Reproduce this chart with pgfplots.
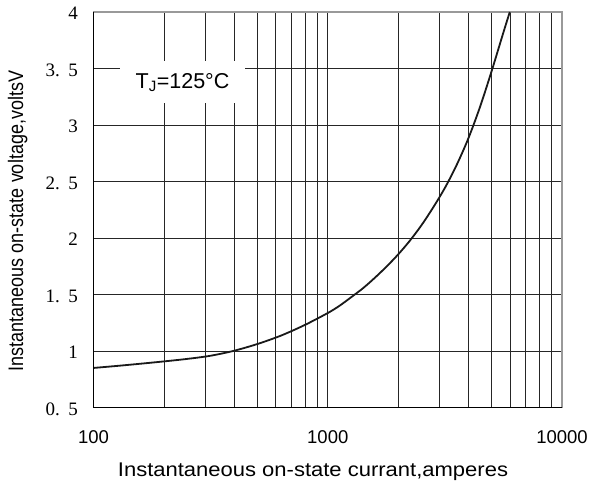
\documentclass[border=0pt]{standalone}
\usepackage{fontspec}
\setmainfont{Liberation Sans}
\newfontfamily\numserif{Liberation Serif}
\usepackage{graphicx}
\usepackage{pgfplots}
\pgfplotsset{compat=1.18}
\pgfplotstableread{
I V
100 0.850
126 0.868
158 0.887
200 0.908
251 0.930
316 0.958
398 1.002
501 1.062
631 1.136
794 1.228
1000 1.336
1122 1.400
1259 1.476
1413 1.555
1585 1.646
1778 1.745
1995 1.853
2239 1.975
2512 2.113
2818 2.270
3162 2.443
3548 2.645
3981 2.880
4467 3.160
5012 3.480
5623 3.820
5985 4.000
}\curve
\begin{document}
\begin{tikzpicture}
\path[use as bounding box] (0,0) rectangle (591bp,486bp);
\begin{axis}[
  at={(93.5bp,78.5bp)}, anchor=south west,
  scale only axis, width=468.5bp, height=395.5bp,
  xmode=log, xmin=100, xmax=10000, ymin=0.5, ymax=4,
  xtick={100,1000,10000}, xticklabels={100,1000,10000},
  minor xtick={200,300,400,500,600,700,800,900,2000,3000,4000,5000,6000,7000,8000,9000},
  ytick={0.5,1,1.5,2,2.5,3,3.5,4},
  yticklabels={0.\hspace{0.45em}5,1,1.\hspace{0.45em}5,2,2.\hspace{0.45em}5,3,3.\hspace{0.45em}5,4},
  xmajorgrids, xminorgrids, ymajorgrids,
  major grid style={black!85, line width=0.95bp},
  minor grid style={black!85, line width=0.95bp},
  major tick length=0pt, minor tick length=0pt,
  axis line style={draw=gray!80, line width=1.4bp},
  xticklabel style={font=\fontsize{18.5bp}{20bp}\selectfont, anchor=north, yshift=-19.6bp},
  yticklabel style={font=\numserif\fontsize{19bp}{21bp}\selectfont, anchor=east, xshift=-12bp, yshift=-1.5bp},
  clip=false,
]
\addplot[black!90, line width=1.8bp, smooth] table[x=I, y=V] {\curve};
\node[fill=white, minimum width=125bp, minimum height=42bp, inner sep=0pt,
      font=\fontsize{21.5bp}{23bp}\selectfont]
  at (rel axis cs:0.19,0.822) {T\textsubscript{J}=125°C};
\draw[black, line width=1.8bp] (rel axis cs:0,1) -- (rel axis cs:0,0) -- (rel axis cs:1,0);
\end{axis}
\node[rotate=90, anchor=base, inner sep=0pt, font=\fontsize{21bp}{23bp}\selectfont]
  at (23bp,265bp) {\scalebox{0.857}[1]{Instantaneous on-state voltage,voltsV}};
\node[anchor=base, inner sep=0pt, font=\fontsize{22bp}{24bp}\selectfont]
  at (313bp,10bp) {\scalebox{1}[0.9]{Instantaneous on-state currant,amperes}};
\end{tikzpicture}
\end{document}
